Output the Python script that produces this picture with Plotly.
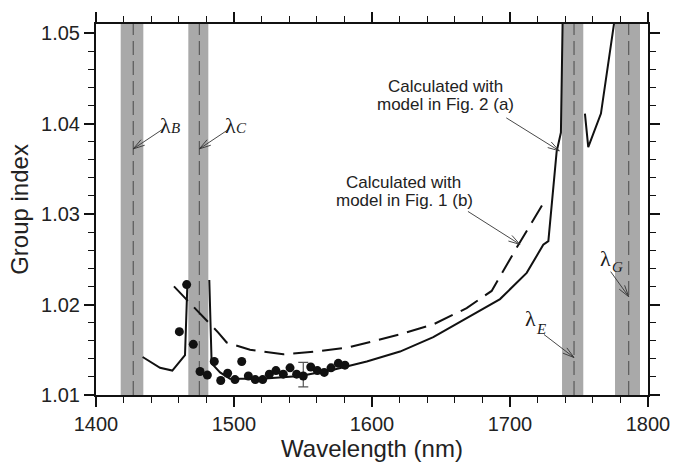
import math
import plotly.graph_objects as go

# Measured group index (dots) and the error bar on one point
meas_wl = [1460.4, 1465.7, 1470.5, 1475.4, 1480.7, 1485.7, 1490.4, 1495.4, 1500.7,
           1505.6, 1510.4, 1515.4, 1520.8, 1525.6, 1530.4, 1535.7, 1540.6, 1545.4,
           1550.2, 1555.6, 1560.4, 1565.4, 1570.3, 1575.6, 1580.4]
meas_ng = [1.0170, 1.0222, 1.0156, 1.0126, 1.0122, 1.0137, 1.0116, 1.0124, 1.0117,
           1.0137, 1.0121, 1.0117, 1.0117, 1.0123, 1.0127, 1.0123, 1.0130, 1.0123,
           1.0121, 1.0131, 1.0127, 1.0125, 1.0130, 1.0135, 1.0133]
err_wl = [1550.2]
err_ng = [1.0121]
err_plus = [0.0015]
err_minus = [0.0012]

# Model of Fig. 2 (a): three branches separated by the resonances
model_a1_wl = [1433.8, 1446.4, 1455.3, 1464.5, 1466.2]
model_a1_ng = [1.0142, 1.0130, 1.0127, 1.0144, 1.0222]
model_a2_wl = [1482.1, 1483.8, 1489.9, 1497.1, 1506.7, 1520.0, 1547.8, 1572.0, 1596.2,
               1620.3, 1644.4, 1668.6, 1692.8, 1712.1, 1724.1, 1727.8, 1733.8, 1736.9,
               1738.2]
model_a2_ng = [1.0227, 1.0135, 1.0125, 1.0118, 1.0118, 1.0118, 1.0121, 1.0128, 1.0137,
               1.0148, 1.0164, 1.0185, 1.0206, 1.0235, 1.0266, 1.0270, 1.0369, 1.0390,
               1.0520]
model_a3_wl = [1754.3, 1756.7, 1765.9, 1776.3]
model_a3_ng = [1.0411, 1.0374, 1.0411, 1.0520]

# Model of Fig. 1 (b)
model_b_wl = [1456.5, 1488.6, 1494.7, 1511.6, 1535.7, 1559.9, 1584.1, 1620.3, 1644.4,
              1668.6, 1686.7, 1704.9, 1725.4]
model_b_ng = [1.0220, 1.0169, 1.0158, 1.0150, 1.0145, 1.0148, 1.0153, 1.0167, 1.0178,
              1.0196, 1.0215, 1.0263, 1.0315]

# Stop bands: edges and centre wavelengths
band_names = ["B", "C", "E", "G"]
band_lo = [1417.9, 1466.9, 1737.7, 1776.1]
band_hi = [1434.3, 1481.4, 1753.1, 1794.2]
band_center = [1427.0, 1474.9, 1746.4, 1786.0]

x_ticks = [1400, 1500, 1600, 1700, 1800]
y_ticks = [1.01, 1.02, 1.03, 1.04, 1.05]

fig = go.Figure()

line_style = dict(color="#111111", width=2)
for wl, ng in [(model_a1_wl, model_a1_ng), (model_a2_wl, model_a2_ng), (model_a3_wl, model_a3_ng)]:
    fig.add_trace(go.Scatter(x=wl, y=ng, mode="lines", line=line_style,
                             showlegend=False, hoverinfo="skip"))

fig.add_trace(go.Scatter(x=model_b_wl, y=model_b_ng, mode="lines",
                         line=dict(color="#111111", width=2, dash="20px,9px"),
                         showlegend=False, hoverinfo="skip"))

fig.add_trace(go.Scatter(x=err_wl, y=err_ng, mode="markers",
                         marker=dict(size=1, color="rgba(0,0,0,0)"),
                         error_y=dict(type="data", symmetric=False, array=err_plus,
                                      arrayminus=err_minus, color="#555555",
                                      thickness=1.2, width=5),
                         showlegend=False, hoverinfo="skip"))

fig.add_trace(go.Scatter(x=meas_wl, y=meas_ng, mode="markers",
                         marker=dict(size=9, color="#111111"),
                         showlegend=False, cliponaxis=False))

# Grey bands with dashed centre lines
for lo, hi, c in zip(band_lo, band_hi, band_center):
    fig.add_shape(type="rect", xref="x", yref="paper", x0=lo, x1=hi, y0=0, y1=1,
                  fillcolor="#a9a9a9", line_width=0, layer="below")
    fig.add_shape(type="line", xref="x", yref="paper", x0=c, x1=c, y0=0, y1=1,
                  line=dict(color="#5a5a5a", width=1.2, dash="14px,6px"), layer="below")


def add_arrow(x_head, y_head, dx, dy, head_len=12, half_angle=16):
    """Thin arrow with an open V head; tail offset (dx, dy) in screen pixels (y down)."""
    tx, ty = dx, -dy  # pixel-sized shapes use y pointing up
    ang = math.atan2(ty, tx)
    pts = []
    for s in (-1, 1):
        a = ang + s * math.radians(half_angle)
        pts.append((head_len * math.cos(a), head_len * math.sin(a)))
    path = (f"M{tx:.2f},{ty:.2f} L0,0 "
            f"M{pts[0][0]:.2f},{pts[0][1]:.2f} L0,0 L{pts[1][0]:.2f},{pts[1][1]:.2f}")
    fig.add_shape(type="path", xref="x", yref="y", xsizemode="pixel", ysizemode="pixel",
                  xanchor=x_head, yanchor=y_head, path=path,
                  line=dict(color="#333333", width=0.9))


# Band labels: lambda glyph plus italic subscript letter, arrow to the centre line
lam_font = dict(family="Liberation Serif", size=22, color="#1a1a1a")
sub_font = dict(family="Liberation Serif", size=15, color="#1a1a1a")
lam_pos = {"B": (1450.0, 1.0398), "C": (1497.1, 1.0398),
           "E": (1714.5, 1.0184), "G": (1769.2, 1.0251)}
sub_pos = {"B": (1457.6, 1.0395), "C": (1505.3, 1.0395),
           "E": (1722.6, 1.0173), "G": (1778.0, 1.0241)}
lam_head = {"B": (1427.0, 1.0372, 30, -20), "C": (1474.9, 1.0372, 30, -20),
            "E": (1746.4, 1.01414, -30, -23), "G": (1786.0, 1.02087, -18, -25)}
for name in band_names:
    lx, ly = lam_pos[name]
    fig.add_annotation(x=lx, y=ly, xref="x", yref="y", showarrow=False,
                       text="λ", font=lam_font)
    sx, sy = sub_pos[name]
    fig.add_annotation(x=sx, y=sy, xref="x", yref="y", showarrow=False,
                       text="<i>" + name + "</i>", font=sub_font)
    hx, hy, ax, ay = lam_head[name]
    add_arrow(hx, hy, ax, ay)

note_font = dict(family="Liberation Sans", size=17, color="#222222")
notes = [
    ("Calculated with", 1653.3, 1.0441),
    ("model in Fig. 2 (a)", 1653.3, 1.0421),
    ("Calculated with", 1622.5, 1.0335),
    ("model in Fig. 1 (b)", 1623.6, 1.0315),
]
for txt, nx, ny in notes:
    fig.add_annotation(x=nx, y=ny, xref="x", yref="y", showarrow=False,
                       text=txt, font=note_font)
add_arrow(1735.7, 1.03698, -53, -33)
add_arrow(1707.2, 1.02664, -52, -33)

axis_common = dict(showline=True, linecolor="#111111", linewidth=2, mirror="ticks",
                   ticks="outside", ticklen=10, tickwidth=1.6, tickcolor="#111111",
                   showgrid=False, zeroline=False,
                   tickfont=dict(family="Liberation Sans", size=20, color="#222222"),
                   title_font=dict(family="Liberation Sans", size=24, color="#222222"))

fig.update_xaxes(range=[1400, 1800], tickvals=x_ticks,
                 ticktext=[str(v) for v in x_ticks],
                 minor=dict(dtick=20, tick0=1400, ticks="outside", ticklen=6,
                            tickwidth=1.4, tickcolor="#111111"),
                 title_text="Wavelength (nm)", title_standoff=4, **axis_common)
fig.update_yaxes(range=[1.01, 1.051], tickvals=y_ticks,
                 ticktext=["%.2f" % v for v in y_ticks],
                 minor=dict(dtick=0.002, tick0=1.01, ticks="outside", ticklen=6,
                            tickwidth=1.4, tickcolor="#111111"),
                 title_text="Group index", title_standoff=6, **axis_common)

fig.update_layout(width=698, height=468, margin=dict(l=96, r=50, t=13, b=69),
                  plot_bgcolor="white", paper_bgcolor="white", showlegend=False)

fig.write_html("out.html")
